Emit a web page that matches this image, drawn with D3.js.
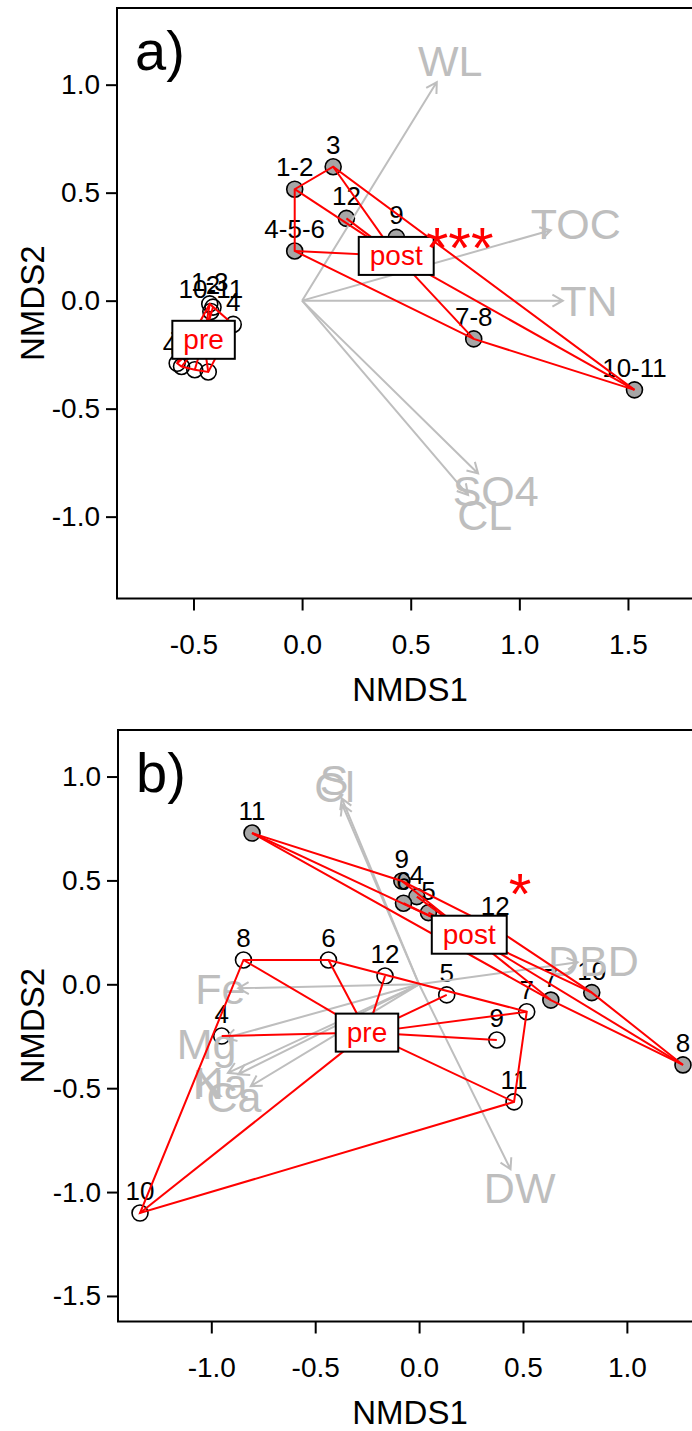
<!DOCTYPE html>
<html>
<head>
<meta charset="utf-8">
<script src="https://cdn.jsdelivr.net/npm/d3@7"></script>
<style>
  body { margin: 0; background: #fff; }
  text { font-family: Arial, "Liberation Sans", sans-serif; }
</style>
</head>
<body>
<svg id="chart" width="692" height="1431"></svg>
<script>
// ---- panel a data ----
const siteLabA = ['1-3', '2', '10-11', '4', '8-9', '5-6', '4-5', '7',
  '1-2', '3', '12', '9', '4-5-6', '7-8', '10-11'];
const siteXA = [-0.425, -0.41, -0.42, -0.317, -0.432, -0.494, -0.555, -0.575,
  -0.034, 0.143, 0.204, 0.434, -0.034, 0.79, 1.53];
const siteYA = [-0.015, -0.03, -0.05, -0.11, -0.33, -0.32, -0.305, -0.29,
  0.516, 0.62, 0.381, 0.293, 0.23, -0.177, -0.413];
const siteGrpA = ['pre', 'pre', 'pre', 'pre', 'pre', 'pre', 'pre', 'pre',
  'post', 'post', 'post', 'post', 'post', 'post', 'post'];

const vecNameA = ['WL', 'TOC', 'TN', 'SO4', 'CL'];
const vecXA = [0.62, 1.145, 1.2, 0.81, 0.764];
const vecYA = [1.012, 0.326, 0.0, -0.80, -0.90];

const xTicksA = [-0.5, 0, 0.5, 1, 1.5];
const yTicksA = [-1, -0.5, 0, 0.5, 1];
const signifA = { text: '***', x: 0.725, y: 0.30 };

// ---- panel b data ----
const siteLabB = ['8', '6', '12', '4', '5', '7', '9', '11', '10',
  '9', '4', '6', '5', '12', '7', '10', '8', '11'];
const siteXB = [-0.845, -0.436, -0.164, -0.95, 0.133, 0.518, 0.374, 0.457, -1.343,
  -0.083, -0.011, -0.075, 0.045, 0.366, 0.634, 0.831, 1.27, -0.804];
const siteYB = [0.117, 0.117, 0.04, -0.249, -0.051, -0.132, -0.268, -0.566, -1.101,
  0.497, 0.422, 0.39, 0.345, 0.27, -0.076, -0.04, -0.388, 0.728];
const siteGrpB = ['pre', 'pre', 'pre', 'pre', 'pre', 'pre', 'pre', 'pre', 'pre',
  'post', 'post', 'post', 'post', 'post', 'post', 'post', 'post', 'post'];

const vecNameB = ['Fe', 'Mg', 'K', 'Na', 'Ca', 'DBD', 'DW', 'S', 'Cl'];
const vecXB = [-0.87, -0.93, -0.92, -0.87, -0.81, 0.763, 0.44, -0.372, -0.37];
const vecYB = [-0.019, -0.258, -0.426, -0.433, -0.49, 0.106, -0.89, 0.895, 0.865];

const xTicksB = [-1, -0.5, 0, 0.5, 1];
const yTicksB = [-1.5, -1, -0.5, 0, 0.5, 1];
const signifB = { text: '*', x: 0.486, y: 0.49 };

const groups = ['pre', 'post'];

const svg = d3.select('#chart');
const grey = '#bebebe';
const fmt = d => d.toFixed(1);

function arrowPath(x1, y1, x2, y2) {
  const a = Math.atan2(y2 - y1, x2 - x1);
  const L = 12;
  const h1 = [x2 - L * Math.cos(a - Math.PI / 6), y2 - L * Math.sin(a - Math.PI / 6)];
  const h2 = [x2 - L * Math.cos(a + Math.PI / 6), y2 - L * Math.sin(a + Math.PI / 6)];
  return `M${x1},${y1}L${x2},${y2}M${h1[0]},${h1[1]}L${x2},${y2}L${h2[0]},${h2[1]}`;
}

function drawPanel(p) {
  const g = svg.append('g');
  const x = d3.scaleLinear().domain(p.xdom).range([p.left, p.right]);
  const y = d3.scaleLinear().domain(p.ydom).range([p.bottom, p.top]);

  const sites = p.labs.map((l, i) => ({ lab: l, x: p.xs[i], y: p.ys[i], grp: p.grp[i] }));

  // sites
  g.selectAll('circle.site')
    .data(sites)
    .enter()
    .append('circle')
    .attr('cx', d => x(d.x))
    .attr('cy', d => y(d.y))
    .attr('r', 8)
    .attr('fill', d => (d.grp === 'post' ? '#a6a6a6' : 'none'))
    .attr('stroke', '#000')
    .attr('stroke-width', 1.6);

  g.selectAll('text.site')
    .data(sites)
    .enter()
    .append('text')
    .attr('x', d => x(d.x))
    .attr('y', d => y(d.y) - 13)
    .attr('text-anchor', 'middle')
    .attr('font-size', 26)
    .text(d => d.lab);

  // env vectors
  const vecs = p.vname.map((n, i) => ({ name: n, x: p.vx[i], y: p.vy[i] }));
  g.selectAll('path.vec')
    .data(vecs)
    .enter()
    .append('path')
    .attr('d', d => arrowPath(x(0), y(0), x(d.x), y(d.y)))
    .attr('fill', 'none')
    .attr('stroke', grey)
    .attr('stroke-width', 2);

  g.selectAll('text.vec')
    .data(vecs)
    .enter()
    .append('text')
    .attr('x', d => x(d.x * 1.1))
    .attr('y', d => y(d.y * 1.1))
    .attr('dy', '0.36em')
    .attr('text-anchor', 'middle')
    .attr('font-size', 43)
    .attr('fill', grey)
    .text(d => d.name);

  // hulls and spiders
  groups.forEach((grp) => {
    const pts = sites.filter(d => d.grp === grp);
    const cx = d3.mean(pts, d => d.x);
    const cy = d3.mean(pts, d => d.y);
    const hull = d3.polygonHull(pts.map(d => [x(d.x), y(d.y)]));
    g.append('path')
      .attr('d', `M${hull.join('L')}Z`)
      .attr('fill', 'none')
      .attr('stroke', 'red')
      .attr('stroke-width', 2);
    g.selectAll(null)
      .data(pts)
      .enter()
      .append('line')
      .attr('x1', x(cx))
      .attr('y1', y(cy))
      .attr('x2', d => x(d.x))
      .attr('y2', d => y(d.y))
      .attr('stroke', 'red')
      .attr('stroke-width', 2);

    const lbl = g.append('text')
      .attr('x', x(cx))
      .attr('y', y(cy))
      .attr('dy', '0.33em')
      .attr('text-anchor', 'middle')
      .attr('font-size', 28)
      .attr('fill', 'red')
      .text(grp);
    const w = lbl.node().getComputedTextLength() + 22;
    g.insert('rect', function () { return lbl.node(); })
      .attr('x', x(cx) - w / 2)
      .attr('y', y(cy) - 19)
      .attr('width', w)
      .attr('height', 38)
      .attr('fill', '#fff')
      .attr('stroke', '#000')
      .attr('stroke-width', 2);
  });

  g.append('text')
    .attr('x', x(p.sig.x))
    .attr('y', y(p.sig.y) + 32)
    .attr('text-anchor', 'middle')
    .attr('font-size', 58)
    .attr('fill', 'red')
    .text(p.sig.text);

  // frame
  g.append('rect')
    .attr('x', p.left)
    .attr('y', p.top)
    .attr('width', p.right - p.left)
    .attr('height', p.bottom - p.top)
    .attr('fill', 'none')
    .attr('stroke', '#000')
    .attr('stroke-width', 2);

  const xAxis = g.append('g')
    .attr('transform', `translate(0,${p.bottom})`)
    .call(d3.axisBottom(x).tickValues(p.xt).tickFormat(fmt).tickSize(12).tickPadding(24));
  const yAxis = g.append('g')
    .attr('transform', `translate(${p.left},0)`)
    .call(d3.axisLeft(y).tickValues(p.yt).tickFormat(fmt).tickSize(11).tickPadding(6));
  [xAxis, yAxis].forEach((ax) => {
    ax.select('.domain').remove();
    ax.selectAll('line').attr('stroke-width', 2);
    ax.selectAll('text')
      .attr('font-size', 28)
      .attr('font-family', 'Arial, "Liberation Sans", sans-serif')
      .attr('fill', '#000');
  });

  g.append('text')
    .attr('x', 410)
    .attr('y', p.bottom + 102)
    .attr('text-anchor', 'middle')
    .attr('font-size', 33)
    .text('NMDS1');

  g.append('text')
    .attr('transform', `translate(32,${(p.top + p.bottom) / 2}) rotate(-90)`)
    .attr('dy', '0.36em')
    .attr('text-anchor', 'middle')
    .attr('font-size', 33)
    .text('NMDS2');

  g.append('text')
    .attr('x', p.left + 18)
    .attr('y', p.top + 62)
    .attr('font-size', 56)
    .text(p.tag);
}

drawPanel({
  tag: 'a)', left: 117, right: 704, top: 8, bottom: 598.5,
  xdom: [-0.852, 1.85], ydom: [-1.379, 1.355],
  labs: siteLabA, xs: siteXA, ys: siteYA, grp: siteGrpA,
  vname: vecNameA, vx: vecXA, vy: vecYA,
  xt: xTicksA, yt: yTicksA, sig: signifA,
});

drawPanel({
  tag: 'b)', left: 118, right: 710, top: 730, bottom: 1321.5,
  xdom: [-1.449, 1.40], ydom: [-1.623, 1.224],
  labs: siteLabB, xs: siteXB, ys: siteYB, grp: siteGrpB,
  vname: vecNameB, vx: vecXB, vy: vecYB,
  xt: xTicksB, yt: yTicksB, sig: signifB,
});
</script>
</body>
</html>
